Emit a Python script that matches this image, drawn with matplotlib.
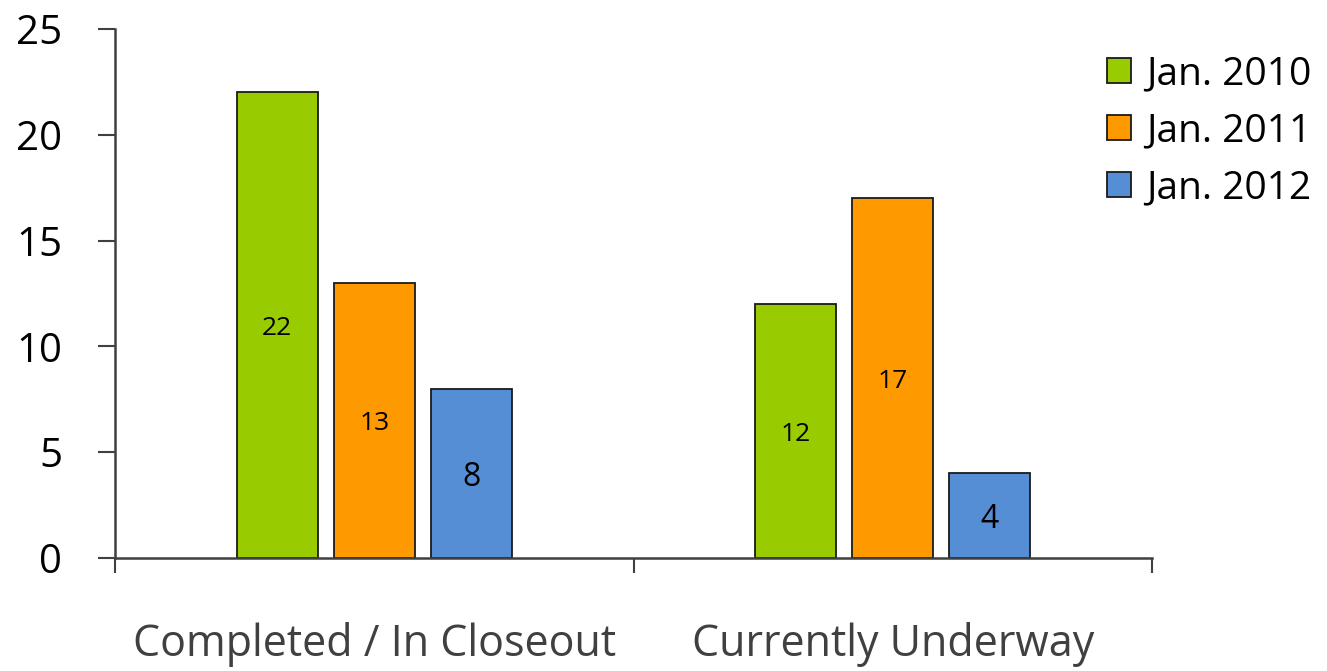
import matplotlib.pyplot as plt
import numpy as np

plt.rcParams['font.family'] = ['Open Sans', 'DejaVu Sans']

categories = ['Completed / In Closeout', 'Currently Underway']
series_names = ['Jan. 2010', 'Jan. 2011', 'Jan. 2012']
jan_2010 = [22, 12]
jan_2011 = [13, 17]
jan_2012 = [8, 4]
label_sizes = [19, 19, 23]

colors = ['#99CC00', '#FF9900', '#558ED5']
spine_color = '#404040'

fig = plt.figure(figsize=(13.27, 6.71), dpi=100)
ax = fig.add_axes([0.0867, 0.1684, 0.7815, 0.7884])

x = np.arange(len(categories))
width = 0.156
step = 0.187
for i, (name, vals) in enumerate(zip(series_names, [jan_2010, jan_2011, jan_2012])):
    pos = x + (i - 1) * step
    ax.bar(pos, vals, width=width, color=colors[i], edgecolor='#1a1a1a',
           linewidth=1.3, label=name, zorder=2)
    for px, v in zip(pos, vals):
        ax.text(px, v / 2, str(v), ha='center', va='center_baseline',
                fontsize=label_sizes[i], color='black', zorder=3)

ax.set_xlim(-0.5, 1.5)
ax.set_ylim(0, 25)
ax.set_yticks([0, 5, 10, 15, 20, 25])
ax.tick_params(axis='y', labelsize=29, length=12, width=1.5,
               color=spine_color, pad=26, labelcolor='black')

# category boundaries as ticks, names in between
ax.set_xticks([-0.5, 0.5, 1.5])
ax.set_xticklabels([])
ax.tick_params(axis='x', length=11, width=1.5, color=spine_color)
ax.set_xticks(x, minor=True)
ax.set_xticklabels(categories, minor=True)
ax.tick_params(axis='x', which='minor', length=0, labelsize=31,
               labelcolor=spine_color, pad=46)

for side in ['top', 'right']:
    ax.spines[side].set_visible(False)
for side in ['left', 'bottom']:
    ax.spines[side].set_color(spine_color)
    ax.spines[side].set_linewidth(1.8)

fig.legend(loc='upper left', bbox_to_anchor=(0.834, 0.918), frameon=False,
           borderpad=0, borderaxespad=0, fontsize=28, handlelength=0.62,
           handleheight=0.62, handletextpad=0.4, labelspacing=0.49)

fig.savefig('out.png', dpi=100, facecolor='white')
